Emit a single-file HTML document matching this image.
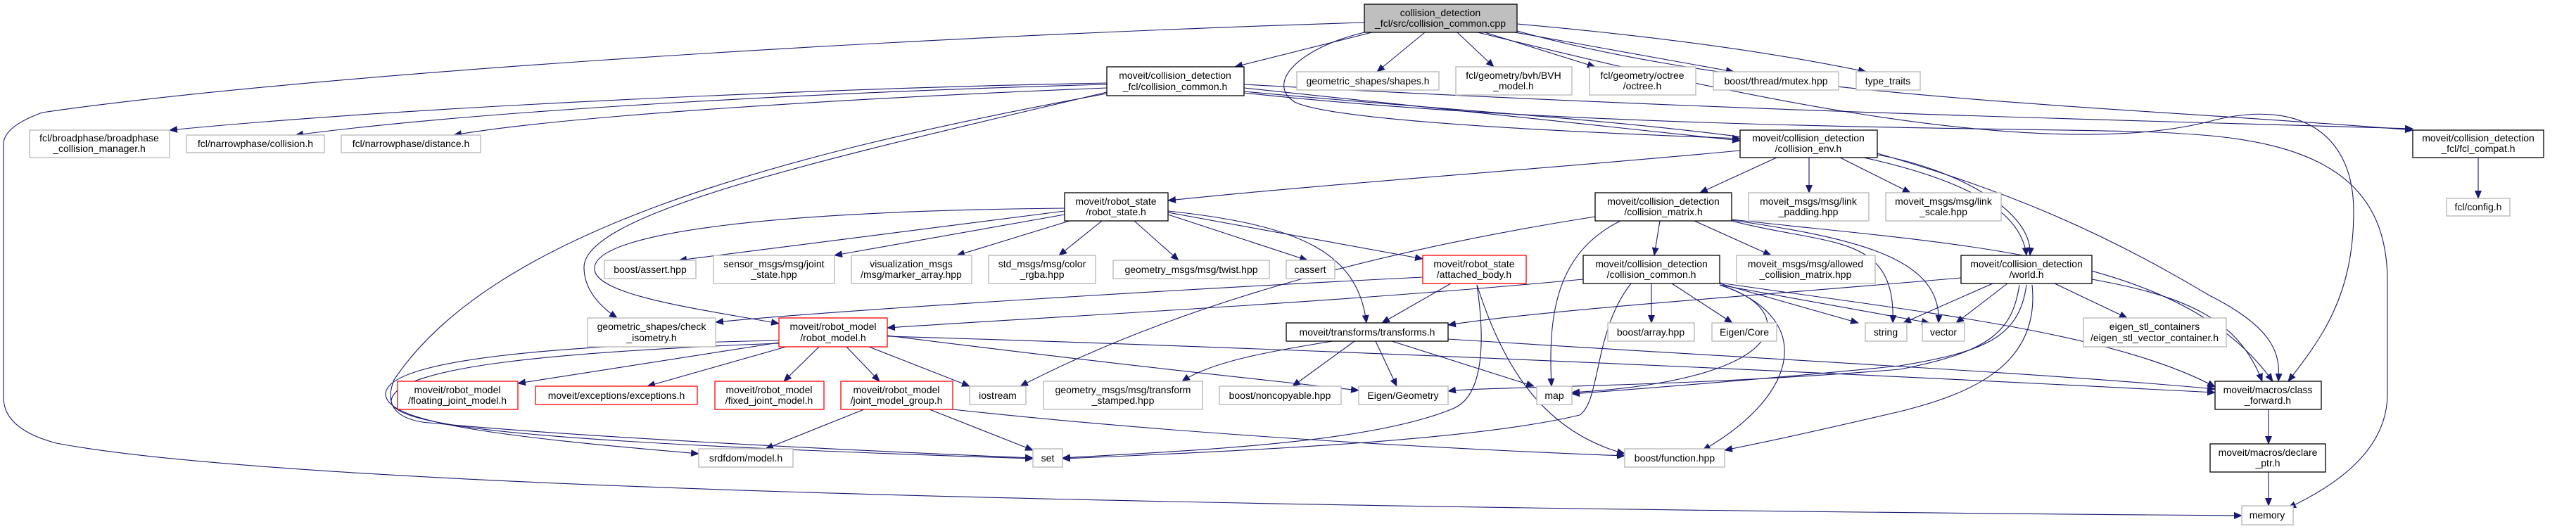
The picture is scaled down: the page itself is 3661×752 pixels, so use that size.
<!DOCTYPE html>
<html><head><meta charset="utf-8"><style>
html,body{margin:0;padding:0;background:#fff;}
svg{display:block;}
text{font-family:"Liberation Sans",sans-serif;font-size:14px;fill:#000;text-anchor:middle;}
.g{fill:#fff;stroke:#bfbfbf;stroke-width:1.5;}
.b{fill:#fff;stroke:#000;stroke-width:1.3;}
.r{fill:#fff;stroke:#ff0000;stroke-width:1.3;}
.e{fill:none;stroke:#191970;stroke-width:1.1;marker-end:url(#a);}
</style></head><body>
<svg width="3661" height="752" viewBox="0 0 3661 752" xmlns="http://www.w3.org/2000/svg">
<defs><marker id="a" markerWidth="12" markerHeight="10" refX="11" refY="5" orient="auto" markerUnits="userSpaceOnUse"><path d="M0,0 L12,5 L0,10 z" fill="#191970"/></marker></defs>
<g>
<!-- root edges -->
<path class="e" d="M1950,46 L1755,95"/>
<path class="e" d="M2025,46 L1957,102"/>
<path class="e" d="M2071,46 L2123,95"/>
<path class="e" d="M2110,46 L2267,95"/>
<path class="e" d="M2153,46 L2464,102"/>
<path class="e" d="M2156,34 Q2450,60 2652,102"/>
<path class="e" d="M1939,32 C1200,55 400,110 60,160 Q5,180 5,205 L5,565 Q5,610 80,630 C400,690 1500,720 3186,733"/>
<path class="e" d="M1939,46 C1840,70 1800,120 1840,145 C1900,175 2300,190 2473,197"/>
<path class="e" d="M2156,44 C2500,140 3000,150 3429,185"/>
<path class="e" d="M2100,46 C2400,120 2900,240 3150,170 C3280,140 3345,200 3345,300 C3345,420 3300,480 3252,542"/>
<!-- fcl collision_common edges -->
<path class="e" d="M1573,118 C1200,125 600,150 241,185"/>
<path class="e" d="M1573,120 C1200,130 700,155 420,192"/>
<path class="e" d="M1573,125 C1200,140 800,165 645,192"/>
<path class="e" d="M1573,131 C1200,220 830,300 830,380 Q830,420 877,452"/>
<path class="e" d="M1573,133 C1100,220 700,330 560,540 Q540,590 600,600 C800,620 1200,640 1468,651"/>
<path class="e" d="M1768,125 C2000,150 2300,180 2473,200"/>
<path class="e" d="M1768,130 C2300,180 2860,190 2880,363"/>
<path class="e" d="M1768,120 C2500,160 3000,170 3429,183"/>
<path class="e" d="M1768,132 C2300,190 3000,180 3100,190 C3300,200 3393,260 3393,400 L3393,560 C3393,640 3320,690 3252,722"/>
<!-- collision_env -->
<path class="e" d="M2473,214 C2200,240 1900,260 1660,285"/>
<path class="e" d="M2525,224 L2416,274"/>
<path class="e" d="M2571,224 L2571,274"/>
<path class="e" d="M2615,224 L2715,274"/>
<path class="e" d="M2668,220 C2780,240 2890,300 2885,363"/>
<path class="e" d="M2668,218 C2850,270 2990,330 3140,420 C3240,470 3240,510 3238,542"/>
<!-- robot_state -->
<path class="e" d="M1513,296 C1100,300 850,330 845,380 C840,420 1000,440 1107,460"/>
<path class="e" d="M1513,300 L965,370"/>
<path class="e" d="M1513,305 L1186,363"/>
<path class="e" d="M1520,314 L1360,363"/>
<path class="e" d="M1566,314 L1505,363"/>
<path class="e" d="M1612,314 L1675,370"/>
<path class="e" d="M1660,305 L1858,370"/>
<path class="e" d="M1660,302 L2022,368"/>
<path class="e" d="M1660,300 C1850,320 1930,360 1942,459"/>
<!-- collision_matrix -->
<path class="e" d="M2267,308 C2000,350 1700,420 1450,549"/>
<path class="e" d="M2303,314 C2210,360 2200,450 2205,549"/>
<path class="e" d="M2359,314 L2351,363"/>
<path class="e" d="M2408,314 L2517,363"/>
<path class="e" d="M2461,314 C2600,350 2695,330 2690,459"/>
<path class="e" d="M2461,313 C2650,340 2760,370 2755,459"/>
<path class="e" d="M2461,312 C2800,350 3100,360 3230,542"/>
<!-- attached_body -->
<path class="e" d="M2022,394 C1700,410 1200,440 1017,458"/>
<path class="e" d="M2062,403 L1964,459"/>
<path class="e" d="M2099,405 C2110,480 2110,560 2067,580 C1950,630 1700,640 1510,651"/>
<path class="e" d="M2099,405 C2130,500 2180,610 2309,645"/>
<!-- cd collision_common -->
<path class="e" d="M2250,397 C1900,430 1500,450 1261,466"/>
<path class="e" d="M2318,403 C2265,470 2275,570 2245,590 C2100,625 1800,640 1510,652"/>
<path class="e" d="M2347,403 L2347,459"/>
<path class="e" d="M2376,403 L2462,459"/>
<path class="e" d="M2444,403 L2641,459"/>
<path class="e" d="M2444,405 L2742,459"/>
<path class="e" d="M2444,405 C2560,440 2550,540 2234,558"/>
<path class="e" d="M2444,405 C2580,450 2560,560 2420,640"/>
<path class="e" d="M2444,402 C2700,440 3000,470 3148,550"/>
<!-- world -->
<path class="e" d="M2787,395 C2500,420 2200,440 2058,462"/>
<path class="e" d="M2832,403 L2705,459"/>
<path class="e" d="M2853,403 L2780,459"/>
<path class="e" d="M2870,405 C2860,470 2830,500 2700,525 C2400,550 2100,550 2058,556"/>
<path class="e" d="M2880,405 C2870,480 2820,500 2700,520 C2500,540 2300,555 2234,560"/>
<path class="e" d="M2888,405 C2900,520 2800,560 2700,585 C2550,620 2500,630 2451,640"/>
<path class="e" d="M2920,403 L3023,452"/>
<path class="e" d="M2973,397 C3100,420 3180,450 3215,542"/>
<!-- transforms -->
<path class="e" d="M2058,482 C2500,510 2900,530 3148,553"/>
<path class="e" d="M1955,485 L1985,549"/>
<path class="e" d="M1978,485 L2180,549"/>
<path class="e" d="M1925,485 L1837,549"/>
<path class="e" d="M1894,485 C1800,500 1720,515 1680,542"/>
<!-- robot_model -->
<path class="e" d="M1107,487 L736,545"/>
<path class="e" d="M1117,493 L920,549"/>
<path class="e" d="M1164,493 L1114,542"/>
<path class="e" d="M1203,493 L1250,542"/>
<path class="e" d="M1235,493 L1378,549"/>
<path class="e" d="M1261,477 C1600,520 1800,540 1931,555"/>
<path class="e" d="M1261,478 C2000,500 2800,540 3148,558"/>
<path class="e" d="M1107,484 C800,490 550,510 548,560 C548,600 700,620 993,645"/>
<path class="e" d="M1107,488 C800,500 560,520 556,570 C556,610 800,630 1468,652"/>
<!-- jmg -->
<path class="e" d="M1228,582 L1088,638"/>
<path class="e" d="M1321,582 L1468,640"/>
<path class="e" d="M1354,582 C1700,620 2100,640 2309,648"/>
<!-- chains -->
<path class="e" d="M3224,582 L3224,631"/>
<path class="e" d="M3224,671 L3224,719"/>
<path class="e" d="M3522,224 L3522,282"/>
</g>
<g>
<rect x="1939" y="6" width="217" height="40" fill="#bfbfbf" stroke="#000" stroke-width="1.3"/><text x="2047" y="23">collision_detection</text><text x="2047" y="38">_fcl/src/collision_common.cpp</text>
<rect class="b" x="1573" y="95" width="195" height="41"/><text x="1670" y="112">moveit/collision_detection</text><text x="1670" y="128">_fcl/collision_common.h</text>
<rect class="g" x="1843" y="102" width="202" height="26"/><text x="1944" y="120">geometric_shapes/shapes.h</text>
<rect class="g" x="2069" y="95" width="165" height="40"/><text x="2151" y="112">fcl/geometry/bvh/BVH</text><text x="2151" y="127">_model.h</text>
<rect class="g" x="2259" y="95" width="151" height="40"/><text x="2334" y="112">fcl/geometry/octree</text><text x="2334" y="127">/octree.h</text>
<rect class="g" x="2435" y="102" width="178" height="26"/><text x="2524" y="120">boost/thread/mutex.hpp</text>
<rect class="g" x="2638" y="102" width="91" height="26"/><text x="2683" y="120">type_traits</text>
<rect class="g" x="42" y="185" width="199" height="39"/><text x="141" y="201">fcl/broadphase/broadphase</text><text x="141" y="216">_collision_manager.h</text>
<rect class="g" x="265" y="192" width="196" height="25"/><text x="363" y="209">fcl/narrowphase/collision.h</text>
<rect class="g" x="485" y="192" width="198" height="25"/><text x="584" y="209">fcl/narrowphase/distance.h</text>
<rect class="b" x="2473" y="185" width="195" height="39"/><text x="2570" y="201">moveit/collision_detection</text><text x="2570" y="216">/collision_env.h</text>
<rect class="b" x="3429" y="185" width="186" height="39"/><text x="3522" y="201">moveit/collision_detection</text><text x="3522" y="216">_fcl/fcl_compat.h</text>
<rect class="g" x="3477" y="282" width="90" height="25"/><text x="3522" y="299">fcl/config.h</text>
<rect class="b" x="1513" y="274" width="147" height="40"/><text x="1586" y="291">moveit/robot_state</text><text x="1586" y="306">/robot_state.h</text>
<rect class="b" x="2267" y="274" width="194" height="40"/><text x="2364" y="291">moveit/collision_detection</text><text x="2364" y="306">/collision_matrix.h</text>
<rect class="g" x="2485" y="274" width="171" height="40"/><text x="2570" y="291">moveit_msgs/msg/link</text><text x="2570" y="306">_padding.hpp</text>
<rect class="g" x="2680" y="274" width="164" height="40"/><text x="2762" y="291">moveit_msgs/msg/link</text><text x="2762" y="306">_scale.hpp</text>
<rect class="g" x="859" y="370" width="130" height="26"/><text x="924" y="388">boost/assert.hpp</text>
<rect class="g" x="1014" y="363" width="172" height="40"/><text x="1100" y="380">sensor_msgs/msg/joint</text><text x="1100" y="395">_state.hpp</text>
<rect class="g" x="1210" y="363" width="171" height="40"/><text x="1295" y="380">visualization_msgs</text><text x="1295" y="395">/msg/marker_array.hpp</text>
<rect class="g" x="1405" y="363" width="152" height="40"/><text x="1481" y="380">std_msgs/msg/color</text><text x="1481" y="395">_rgba.hpp</text>
<rect class="g" x="1582" y="370" width="222" height="26"/><text x="1693" y="388">geometry_msgs/msg/twist.hpp</text>
<rect class="g" x="1828" y="370" width="69" height="26"/><text x="1862" y="388">cassert</text>
<rect class="r" x="2022" y="363" width="147" height="40"/><text x="2095" y="380">moveit/robot_state</text><text x="2095" y="395">/attached_body.h</text>
<rect class="b" x="2250" y="363" width="194" height="40"/><text x="2347" y="380">moveit/collision_detection</text><text x="2347" y="395">/collision_common.h</text>
<rect class="g" x="2468" y="363" width="197" height="40"/><text x="2566" y="380">moveit_msgs/msg/allowed</text><text x="2566" y="395">_collision_matrix.hpp</text>
<rect class="b" x="2787" y="363" width="186" height="40"/><text x="2880" y="380">moveit/collision_detection</text><text x="2880" y="395">/world.h</text>
<rect class="g" x="835" y="452" width="182" height="41"/><text x="926" y="469">geometric_shapes/check</text><text x="926" y="485">_isometry.h</text>
<rect class="r" x="1107" y="452" width="154" height="41"/><text x="1184" y="469">moveit/robot_model</text><text x="1184" y="485">/robot_model.h</text>
<rect class="b" x="1828" y="459" width="230" height="26"/><text x="1943" y="477">moveit/transforms/transforms.h</text>
<rect class="g" x="2285" y="459" width="123" height="26"/><text x="2346" y="477">boost/array.hpp</text>
<rect class="g" x="2433" y="459" width="92" height="26"/><text x="2479" y="477">Eigen/Core</text>
<rect class="g" x="2651" y="459" width="59" height="26"/><text x="2680" y="477">string</text>
<rect class="g" x="2732" y="459" width="60" height="26"/><text x="2762" y="477">vector</text>
<rect class="g" x="2961" y="452" width="203" height="41"/><text x="3062" y="469">eigen_stl_containers</text><text x="3062" y="485">/eigen_stl_vector_container.h</text>
<rect class="r" x="565" y="542" width="171" height="40"/><text x="650" y="559">moveit/robot_model</text><text x="650" y="574">/floating_joint_model.h</text>
<rect class="r" x="761" y="549" width="230" height="26"/><text x="876" y="567">moveit/exceptions/exceptions.h</text>
<rect class="r" x="1016" y="542" width="155" height="40"/><text x="1093" y="559">moveit/robot_model</text><text x="1093" y="574">/fixed_joint_model.h</text>
<rect class="r" x="1195" y="542" width="159" height="40"/><text x="1274" y="559">moveit/robot_model</text><text x="1274" y="574">/joint_model_group.h</text>
<rect class="g" x="1378" y="549" width="80" height="26"/><text x="1418" y="567">iostream</text>
<rect class="g" x="1483" y="542" width="226" height="40"/><text x="1596" y="559">geometry_msgs/msg/transform</text><text x="1596" y="574">_stamped.hpp</text>
<rect class="g" x="1733" y="549" width="173" height="26"/><text x="1819" y="567">boost/noncopyable.hpp</text>
<rect class="g" x="1931" y="549" width="127" height="26"/><text x="1994" y="567">Eigen/Geometry</text>
<rect class="g" x="2184" y="549" width="50" height="26"/><text x="2209" y="567">map</text>
<rect class="b" x="3148" y="542" width="151" height="40"/><text x="3223" y="559">moveit/macros/class</text><text x="3223" y="574">_forward.h</text>
<rect class="g" x="993" y="638" width="134" height="26"/><text x="1060" y="656">srdfdom/model.h</text>
<rect class="g" x="1468" y="638" width="42" height="26"/><text x="1489" y="656">set</text>
<rect class="g" x="2309" y="638" width="142" height="26"/><text x="2380" y="656">boost/function.hpp</text>
<rect class="b" x="3141" y="631" width="164" height="40"/><text x="3223" y="648">moveit/macros/declare</text><text x="3223" y="663">_ptr.h</text>
<rect class="g" x="3186" y="719" width="73" height="27"/><text x="3222" y="737">memory</text>
</g>
</svg>
</body></html>
